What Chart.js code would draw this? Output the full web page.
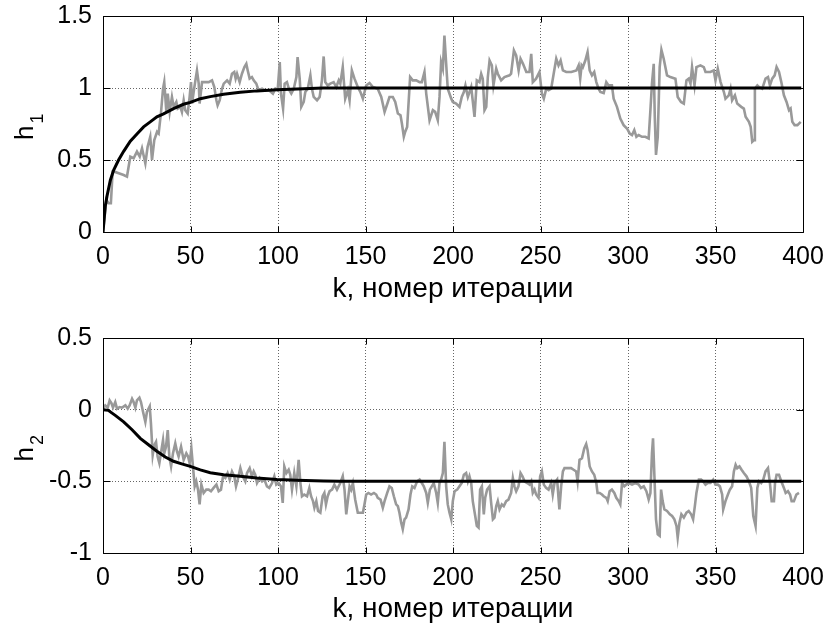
<!DOCTYPE html>
<html>
<head>
<meta charset="utf-8">
<script src="https://cdn.jsdelivr.net/npm/chart.js@4.4.1/dist/chart.umd.min.js"></script>
<style>
  body { margin: 0; background: #fff; }
  #wrap { position: relative; width: 831px; height: 627px; }
  #c1 { position: absolute; left: 0; top: 0; }
  #c2 { position: absolute; left: 0; top: 313px; }
</style>
</head>
<body>
<div id="wrap">
  <canvas id="c1" width="831" height="313"></canvas>
  <canvas id="c2" width="831" height="314"></canvas>
</div>
<script>
// оси
const xTickVals = [0, 50, 100, 150, 200, 250, 300, 350, 400];
const xTickLabels = ['0', '50', '100', '150', '200', '250', '300', '350', '400'];
const xTitle = 'k, номер итерации';

const yTicks1 = [0, 0.5, 1, 1.5];
const yLabels1 = ['0', '0.5', '1', '1.5'];
const yTicks2 = [-1, -0.5, 0, 0.5];
const yLabels2 = ['-1', '-0.5', '0', '0.5'];
const yNames = ['h', 'h'];
const ySubs = ['1', '2'];

// h1: истинное значение (чёрная линия)
const kTrue1 = [0, 1.3, 2.3, 4.2, 6.1, 8.9, 11.8, 15.6, 19.4, 23.2, 27, 30.8, 34.6, 40.3, 46, 49.9, 55.6, 61.3, 68.9, 78.4, 87.9, 99.3, 110.7, 126, 399];
const h1True = [0, 0.18, 0.25, 0.36, 0.43, 0.5, 0.56, 0.63, 0.68, 0.73, 0.765, 0.8, 0.82, 0.857, 0.887, 0.9, 0.926, 0.94, 0.956, 0.97, 0.98, 0.988, 0.993, 1, 1];

// h1: оценка (серая линия)
const kEst1 = [
  0, 1.9, 3.2, 4.5, 5.5, 6.5, 9, 11.8, 13.7, 15.6,
  17.5, 19.4, 21, 22.3, 24.2, 25.5, 27, 28, 29.3, 30.9,
  31.8, 33.1, 34.3, 35, 36.2, 37, 38.1, 39.4, 40.4, 41.9,
  42.7, 44.2, 45.1, 46.1, 47, 48.4, 49.5, 50.3, 50.9, 51.8,
  52.8, 53.7, 54.7, 55.2, 56.6, 58.5, 60.4, 62.3, 63.6, 64.8,
  65.5, 66.7, 68, 69, 70.9, 72.4, 73.7, 75, 75.8, 76.6,
  78.1, 79.4, 80.8, 81.9, 82.7, 83.8, 85.1, 86.1, 87.6, 88.9,
  90.9, 92.8, 94.7, 96, 97.1, 98.5, 99.8, 101, 101.7, 102.9,
  103.8, 105.1, 106.5, 107.6, 109, 110.5, 111.2, 112.4, 113.3, 114.7,
  115.6, 117, 118.5, 119.4, 120.4, 122.3, 123.8, 125.1, 126.1, 127,
  128.4, 129.9, 131.8, 133.3, 134.7, 135.6, 137, 138.4, 139.9, 140.9,
  142.2, 143.7, 145.6, 147.1, 148.5, 150.4, 152.3, 154.2, 157, 159,
  160.9, 162.8, 163.7, 165.6, 167, 168.5, 170, 170.8, 171.9, 172.7,
  173.8, 175.5, 177, 179, 180.9, 182.2, 183.7, 184.7, 186.6, 188.5,
  189.8, 191.3, 192.3, 193.2, 194.2, 195.1, 196.1, 197, 199, 199.9,
  201.8, 203.7, 205, 206.2, 207.1, 208.5, 210.4, 212.3, 213.6, 215.1,
  216.1, 217, 218, 219, 219.9, 220.9, 222.2, 223.1, 224.7, 225.6,
  227.5, 229.4, 232.3, 233.2, 234.8, 236.1, 237.5, 238.6, 240, 241.9,
  243.7, 244.7, 245.6, 247.5, 249.4, 250.8, 251.9, 253.3, 254.6, 256.1,
  257.7, 259, 260.3, 261.5, 262.8, 264.7, 267.6, 270.5, 271.8, 272.7,
  273.5, 274.2, 275.6, 276.9, 278.1, 279.4, 280.7, 281.9, 283.2, 284.2,
  286.1, 287.6, 288.9, 290.8, 291.8, 293.7, 295.6, 297.5, 299.4, 301,
  302.3, 303.6, 304.8, 306.1, 308, 309.9, 311.8, 312.8, 313.7, 314.7,
  315.3, 316, 317, 318.1, 319.1, 320.4, 322.3, 324.2, 327.1, 328.4,
  330.3, 331.9, 333.4, 334.7, 335.7, 336.6, 338, 339.1, 341.4, 343.3,
  344.3, 347.1, 349, 350, 351.3, 352.9, 354.8, 355.7, 357.6, 358.6,
  359.5, 361.1, 362.4, 364.7, 366.2, 367.2, 369.1, 370.1, 371, 372,
  372.5, 373.9, 374.8, 376.7, 378.6, 380, 381.1, 382.4, 383.8, 384.9,
  386.3, 387.6, 389.1, 390.6, 392, 392.9, 393.9, 395.2, 396.8, 398.7
];
const h1Est = [
  0, 0.224, 0.2, 0.2, 0.419, 0.419, 0.408, 0.396, 0.385, 0.523,
  0.512, 0.558, 0.523, 0.581, 0.477, 0.592, 0.661, 0.5, 0.638, 0.696,
  0.684, 0.823, 0.995, 1.041, 0.834, 0.961, 0.834, 0.938, 0.869, 0.903,
  0.857, 0.869, 0.834, 0.915, 0.846, 0.823, 0.938, 1.041, 0.892, 0.972,
  1.053, 1.122, 1.03, 0.892, 1.041, 1.041, 1.041, 1.053, 1.007, 0.915,
  0.88, 0.915, 0.995, 1.03, 1.053, 1.03, 1.099, 1.111, 1.065, 1.099,
  1.041, 1.099, 1.145, 1.168, 1.122, 1.065, 1.076, 1.053, 1.03, 0.984,
  0.995, 0.984, 0.984, 0.972, 0.961, 0.995, 0.984, 1.18, 0.961, 0.857,
  1.03, 1.041, 0.984, 0.961, 0.995, 1.076, 1.214, 1.065, 0.869, 0.903,
  0.972, 0.995, 1.088, 0.995, 0.938, 0.915, 0.938, 1.053, 1.219, 1.041,
  1.018, 1.03, 1.041, 1.007, 1.053, 1.03, 1.145, 0.926, 0.984, 0.915,
  1.122, 1.065, 1.007, 0.972, 0.926, 1.018, 1.035, 1.007, 0.995, 0.938,
  0.834, 0.903, 0.938, 0.938, 0.903, 0.823, 0.811, 0.753, 0.661, 0.696,
  0.73, 1.076, 1.053, 1.053, 1.041, 1.041, 1.111, 0.961, 0.776, 0.846,
  0.834, 0.776, 0.938, 1.18, 1.134, 1.364, 1.168, 0.995, 0.926, 0.903,
  0.892, 0.869, 0.938, 0.972, 1.018, 0.938, 1.007, 0.8, 1.053, 1.041,
  1.099, 1.065, 0.846, 0.869, 1.076, 1.191, 1.157, 1.018, 1.134, 1.099,
  1.053, 1.076, 1.088, 1.099, 1.26, 1.226, 1.122, 1.203, 1.168, 1.111,
  1.111, 1.237, 1.041, 1.065, 1.111, 0.961, 0.926, 0.995, 0.984, 0.995,
  1.111, 1.203, 1.157, 1.191, 1.122, 1.111, 1.111, 1.122, 1.157, 1.065,
  1.157, 1.145, 1.191, 1.249, 1.122, 1.088, 1.111, 1.041, 0.995, 0.972,
  0.965, 1.041, 1.018, 1.018, 0.926, 0.869, 0.788, 0.742, 0.719, 0.684,
  0.673, 0.707, 0.661, 0.673, 0.661, 0.661, 0.65, 0.846, 1.03, 1.168,
  0.8, 0.535, 0.661, 1.145, 1.265, 1.203, 1.088, 1.076, 1.065, 0.938,
  0.903, 0.892, 1.053, 1.065, 1.03, 1.145, 1.018, 1.145, 1.157, 1.145,
  1.111, 1.111, 1.122, 1.053, 1.134, 1.041, 0.972, 0.926, 0.949, 0.995,
  0.915, 0.949, 0.892, 0.869, 0.857, 0.8, 0.765, 0.73, 0.627, 0.638,
  0.995, 1.018, 1.007, 0.995, 1.065, 1.076, 1.018, 1.065, 1.088, 1.145,
  1.111, 1.041, 0.949, 0.903, 0.846, 0.857, 0.765, 0.742, 0.742, 0.765
];

// h2: истинное значение
const kTrue2 = [0, 3, 7, 11.8, 16.6, 21.3, 26, 30.8, 35.6, 40.3, 45, 49.9, 55.6, 61.3, 68.9, 78.4, 87.9, 99.3, 110.7, 126, 135, 399];
const h2True = [0, -0.005, -0.04, -0.085, -0.14, -0.2, -0.245, -0.29, -0.33, -0.36, -0.378, -0.396, -0.42, -0.44, -0.454, -0.465, -0.477, -0.488, -0.493, -0.498, -0.5, -0.5];

// h2: оценка
const kEst2 = [
  0, 1.3, 2.7, 3.8, 4.8, 5.7, 7, 8, 9.5, 10.9,
  12.8, 14.1, 15.2, 16.6, 17.5, 18.5, 19.4, 20.8, 21.7, 22.9,
  24.2, 25.1, 26.7, 27.4, 28.4, 29.3, 30.3, 31.2, 32.2, 33.1,
  34.3, 35, 36, 37, 37.9, 38.9, 40, 41.3, 42.3, 43.2,
  44.6, 46.1, 47.6, 48.6, 49.5, 50.5, 51.4, 52.4, 53.3, 54.3,
  55.2, 56.2, 57.5, 59, 60.4, 61.7, 63.2, 64.8, 66.1, 67.4,
  68.6, 69.9, 71.2, 72.4, 73.7, 75, 76, 77, 78.5, 79.8,
  81.3, 82.3, 83.8, 85.1, 86.1, 87, 88, 89.5, 90.9, 92.2,
  93.7, 95, 96.6, 97.9, 99, 100.4, 101.7, 102.7, 103.6, 104.8,
  106.1, 107, 108, 109.3, 110.5, 111.8, 112.8, 113.7, 115, 116.6,
  117.9, 118.9, 120, 120.8, 121.9, 122.9, 124.2, 125.5, 126.5, 127.4,
  128.4, 129.5, 130.9, 132.2, 133.7, 135.6, 137, 138, 139, 139.9,
  140.9, 141.8, 142.8, 144.1, 145.6, 147.1, 148.5, 149.4, 150.4, 151.7,
  153.2, 154.8, 156.1, 157, 158.6, 159.9, 160.9, 162.4, 163.7, 165,
  166.2, 167.5, 168.5, 169.4, 170.4, 171.3, 172.3, 173.2, 174.6, 175.7,
  176.7, 178, 179.5, 180.9, 182.2, 183.3, 184.7, 185.6, 186.8, 187.9,
  189, 190.4, 191.3, 192.3, 193.2, 194.2, 195.1, 196.1, 197, 198,
  199, 199.9, 200.9, 202.4, 203.7, 205, 206.2, 207.5, 208.5, 209.4,
  210.4, 211.3, 212.7, 213.6, 214.6, 215.5, 216.5, 217.6, 218.4, 219.5,
  220.9, 221.8, 222.8, 223.7, 224.7, 225.6, 226.6, 227.9, 229, 230.4,
  231.7, 233.2, 234.2, 235.1, 236.1, 237.4, 238.6, 239.7, 240.9, 242.4,
  243.7, 244.7, 245.6, 246.6, 247.5, 248.9, 249.8, 250.8, 251.9, 253.2,
  254.6, 256.1, 257, 258, 259.5, 260.8, 261.8, 262.8, 263.7, 265.6,
  267.5, 268.9, 270.4, 271.2, 272.3, 273.7, 275, 276.1, 276.9, 278.1,
  279.4, 280.7, 281.9, 282.6, 283.8, 285.1, 286.1, 287.6, 288.4, 289.5,
  290.8, 292.2, 293.3, 294.7, 295.6, 296.6, 297.9, 299, 300.4, 302.3,
  304.2, 306.1, 307.4, 309, 310.5, 311.8, 312.8, 313.7, 314.3, 315.1,
  316, 317, 318.1, 318.9, 319.8, 320.8, 322.3, 323.9, 325.2, 326.5,
  327.7, 328.4, 329.4, 330.5, 331.9, 333.4, 334.7, 336.1, 337.2, 338.2,
  339.1, 340.5, 341.8, 342.9, 344.3, 345.6, 347.1, 348.7, 350, 351.3,
  352.5, 353.8, 354.4, 355.7, 357.1, 358.2, 359.5, 360.5, 361.5, 362.4,
  363.7, 364.9, 366.2, 367.7, 369.1, 370.4, 371.6, 372.9, 373.9, 374.8,
  376.1, 377.3, 378.6, 380, 381.1, 382.1, 383.4, 384, 384.9, 386.3,
  387.6, 389.1, 390.1, 391.4, 392.6, 393.5, 394.8, 396.2, 397.7
];
const h2Est = [
  0.007, 0.03, 0.014, 0.065, 0.046, 0.014, 0.053, 0.007, 0.018, 0.014,
  0.03, 0.007, 0.03, 0.076, 0.053, 0.014, 0.065, 0.083, 0.053, -0.016,
  -0.085, -0.016, 0.023, -0.097, -0.316, -0.247, -0.224, -0.327, -0.373, -0.304,
  -0.212, -0.304, -0.258, -0.143, -0.327, -0.396, -0.304, -0.235, -0.293, -0.327,
  -0.258, -0.35, -0.304, -0.327, -0.373, -0.27, -0.396, -0.535, -0.5, -0.558,
  -0.661, -0.523, -0.581, -0.558, -0.558, -0.569, -0.546, -0.523, -0.569, -0.558,
  -0.465, -0.477, -0.442, -0.488, -0.431, -0.465, -0.535, -0.488, -0.408, -0.465,
  -0.5, -0.442, -0.408, -0.465, -0.431, -0.454, -0.512, -0.477, -0.5, -0.488,
  -0.535, -0.546, -0.512, -0.465, -0.523, -0.512, -0.535, -0.65, -0.396, -0.442,
  -0.419, -0.454, -0.558, -0.442, -0.535, -0.35, -0.512, -0.604, -0.592, -0.604,
  -0.546, -0.604, -0.638, -0.684, -0.638, -0.707, -0.719, -0.604, -0.581, -0.661,
  -0.604, -0.569, -0.558, -0.523, -0.558, -0.512, -0.465, -0.558, -0.73, -0.638,
  -0.535, -0.558, -0.512, -0.627, -0.719, -0.719, -0.719, -0.661, -0.592, -0.581,
  -0.592, -0.581, -0.592, -0.615, -0.627, -0.684, -0.638, -0.581, -0.535, -0.546,
  -0.604, -0.661, -0.673, -0.719, -0.788, -0.834, -0.765, -0.753, -0.696, -0.592,
  -0.535, -0.546, -0.5, -0.488, -0.512, -0.535, -0.581, -0.65, -0.558, -0.535,
  -0.512, -0.581, -0.65, -0.512, -0.488, -0.442, -0.224, -0.535, -0.661, -0.719,
  -0.765, -0.638, -0.569, -0.558, -0.535, -0.512, -0.454, -0.442, -0.5, -0.465,
  -0.512, -0.638, -0.742, -0.811, -0.823, -0.558, -0.535, -0.73, -0.615, -0.558,
  -0.535, -0.65, -0.765, -0.753, -0.673, -0.638, -0.696, -0.661, -0.673, -0.638,
  -0.627, -0.581, -0.477, -0.535, -0.569, -0.535, -0.442, -0.465, -0.5, -0.512,
  -0.523, -0.5, -0.581, -0.558, -0.592, -0.615, -0.465, -0.431, -0.523, -0.546,
  -0.558, -0.512, -0.592, -0.512, -0.488, -0.696, -0.535, -0.431, -0.408, -0.408,
  -0.408, -0.419, -0.431, -0.5, -0.35, -0.339, -0.27, -0.24, -0.281, -0.396,
  -0.431, -0.454, -0.512, -0.581, -0.581, -0.592, -0.604, -0.615, -0.638, -0.569,
  -0.558, -0.581, -0.615, -0.638, -0.661, -0.512, -0.535, -0.523, -0.512, -0.523,
  -0.512, -0.523, -0.546, -0.535, -0.569, -0.627, -0.581, -0.304, -0.2, -0.465,
  -0.765, -0.869, -0.88, -0.558, -0.638, -0.696, -0.707, -0.73, -0.742, -0.765,
  -0.811, -0.892, -0.788, -0.73, -0.753, -0.719, -0.707, -0.73, -0.765, -0.673,
  -0.581, -0.488, -0.488, -0.5, -0.523, -0.512, -0.512, -0.488, -0.523, -0.523,
  -0.535, -0.592, -0.696, -0.638, -0.592, -0.558, -0.535, -0.431, -0.385, -0.408,
  -0.396, -0.419, -0.442, -0.465, -0.5, -0.546, -0.742, -0.811, -0.546, -0.5,
  -0.512, -0.488, -0.431, -0.408, -0.512, -0.638, -0.638, -0.512, -0.454, -0.454,
  -0.5, -0.546, -0.581, -0.569, -0.592, -0.638, -0.638, -0.592, -0.581
];

const FONT = '"Liberation Sans", Arial, Helvetica, sans-serif';
Chart.defaults.font.family = FONT;
Chart.defaults.font.size = 25;
Chart.defaults.color = '#000';

const pts = (xs, ys) => xs.map((x, i) => ({ x, y: ys[i] }));

// рамка, внутренние риски и подпись оси Y с индексом (как в MATLAB)
const matlabBox = {
  id: 'matlabBox',
  afterDraw(chart, args, opts) {
    const { ctx, chartArea: a, scales: { x, y } } = chart;
    const L = Math.round(a.left) + 0.5, R = Math.round(a.right) + 0.5;
    const T = Math.round(a.top) + 0.5, B = Math.round(a.bottom) + 0.5;
    ctx.save();
    ctx.strokeStyle = '#000';
    ctx.lineWidth = 1;
    ctx.beginPath();
    ctx.rect(L, T, R - L, B - T);
    x.ticks.forEach(t => {
      const px = Math.round(x.getPixelForValue(t.value)) + 0.5;
      ctx.moveTo(px, B); ctx.lineTo(px, B - 6);
      ctx.moveTo(px, T); ctx.lineTo(px, T + 6);
    });
    y.ticks.forEach(t => {
      const py = Math.round(y.getPixelForValue(t.value)) + 0.5;
      ctx.moveTo(L, py); ctx.lineTo(L + 7, py);
      ctx.moveTo(R, py); ctx.lineTo(R - 7, py);
    });
    ctx.stroke();

    ctx.fillStyle = '#000';
    ctx.translate(33, (a.top + a.bottom) / 2 + 16);
    ctx.rotate(-Math.PI / 2);
    ctx.textAlign = 'left';
    ctx.textBaseline = 'alphabetic';
    ctx.font = '26px ' + FONT;
    ctx.fillText(opts.name, 0, 0);
    const w = ctx.measureText(opts.name).width;
    ctx.font = '18px ' + FONT;
    ctx.fillText(opts.sub, w + 2, 10);
    ctx.restore();
  }
};

function makeChart(id, cfg) {
  return new Chart(document.getElementById(id), {
    type: 'line',
    data: {
      datasets: [
        {
          data: pts(cfg.kTrue, cfg.trueVals),
          borderColor: '#000',
          borderWidth: 3,
          order: 0
        },
        {
          data: pts(cfg.kEst, cfg.estVals),
          borderColor: '#999999',
          borderWidth: 2.6,
          order: 1
        }
      ]
    },
    options: {
      responsive: false,
      animation: false,
      events: [],
      elements: { point: { radius: 0 }, line: { tension: 0 } },
      layout: { padding: { left: 0, right: 28, top: cfg.padTop, bottom: 0 } },
      plugins: {
        legend: { display: false },
        tooltip: { enabled: false },
        matlabBox: { name: cfg.name, sub: cfg.sub }
      },
      scales: {
        x: {
          type: 'linear',
          min: 0,
          max: 400,
          afterBuildTicks: s => { s.ticks = xTickVals.map(v => ({ value: v })); },
          afterFit: s => { s.height = cfg.xHeight; s.paddingLeft = 0; s.paddingRight = 0; },
          ticks: { padding: 10, maxRotation: 0, callback: (v, i) => xTickLabels[i] },
          grid: { color: 'rgba(0,0,0,0.6)', lineWidth: 1, drawTicks: false },
          border: { display: false, dash: [1, 2] },
          title: { display: true, text: xTitle, font: { size: 28 }, padding: { top: 0, bottom: cfg.titlePad } }
        },
        y: {
          min: cfg.yTicks[0],
          max: cfg.yTicks[cfg.yTicks.length - 1],
          afterBuildTicks: s => { s.ticks = cfg.yTicks.map(v => ({ value: v })); },
          afterFit: s => { s.width = 103; s.paddingTop = 0; s.paddingBottom = 0; },
          ticks: { padding: 11, callback: (v, i) => cfg.yLabels[i] },
          grid: { color: 'rgba(0,0,0,0.6)', lineWidth: 1, drawTicks: false },
          border: { display: false, dash: [1, 2] }
        }
      }
    },
    plugins: [matlabBox]
  });
}

makeChart('c1', {
  kTrue: kTrue1, trueVals: h1True, kEst: kEst1, estVals: h1Est,
  yTicks: yTicks1, yLabels: yLabels1, name: yNames[0], sub: ySubs[0],
  padTop: 16, xHeight: 81, titlePad: 7
});
makeChart('c2', {
  kTrue: kTrue2, trueVals: h2True, kEst: kEst2, estVals: h2Est,
  yTicks: yTicks2, yLabels: yLabels2, name: yNames[1], sub: ySubs[1],
  padTop: 25, xHeight: 74, titlePad: 1
});
</script>
</body>
</html>
